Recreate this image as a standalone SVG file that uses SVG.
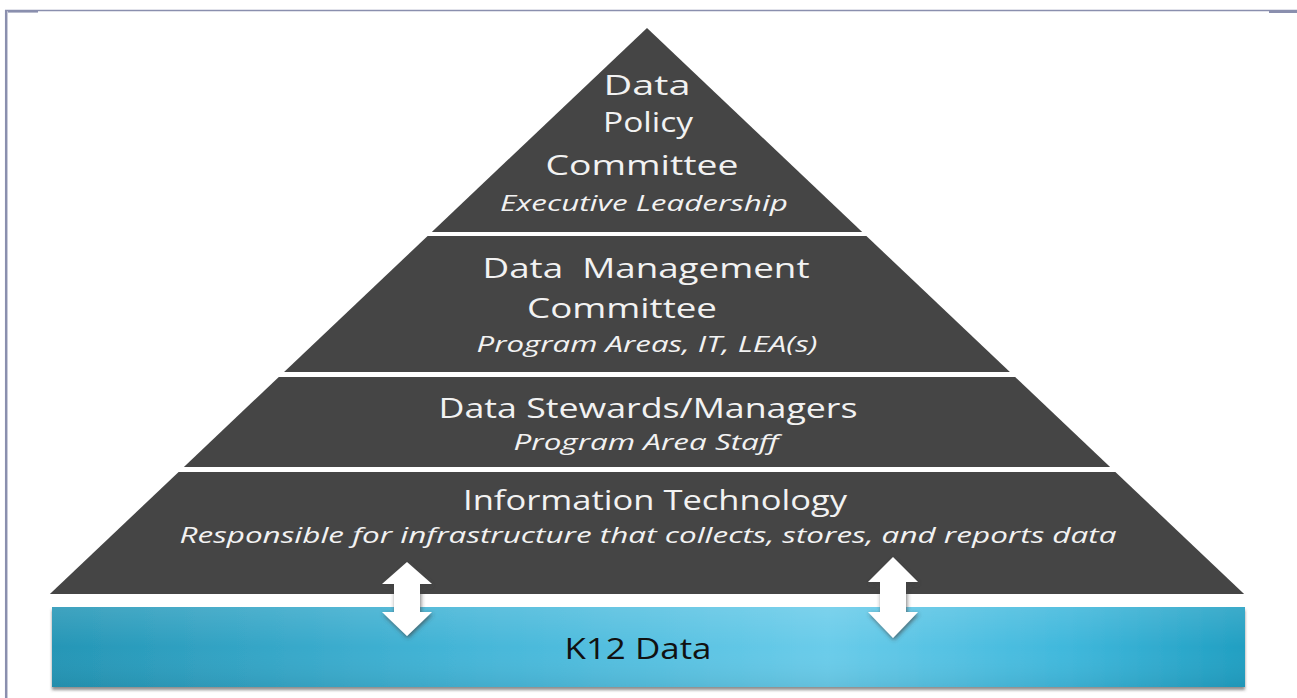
<svg xmlns="http://www.w3.org/2000/svg" width="1297" height="698" viewBox="0 0 1297 698">
<defs>
<style>
.tier{fill:#454545;}
.t{font-family:"Open Sans","DejaVu Sans",sans-serif;fill:#f2f2f2;text-anchor:middle;}
.big{font-size:28px;}
.sub{font-size:22px;font-style:italic;}
.frame{stroke:#8a8fae;fill:none;}
</style>
<linearGradient id="bar" x1="0" y1="0" x2="1" y2="0">
<stop offset="0" stop-color="#2596b6"/>
<stop offset="0.35" stop-color="#45b6d8"/>
<stop offset="0.65" stop-color="#6accea"/>
<stop offset="0.85" stop-color="#40b8dc"/>
<stop offset="1" stop-color="#219fc2"/>
</linearGradient>
<linearGradient id="barv" x1="0" y1="0" x2="0" y2="1">
<stop offset="0" stop-color="#ffffff" stop-opacity="0.12"/>
<stop offset="0.5" stop-color="#ffffff" stop-opacity="0"/>
<stop offset="1" stop-color="#000000" stop-opacity="0.06"/>
</linearGradient>
<filter id="sh" x="-30%" y="-20%" width="160%" height="150%">
<feDropShadow dx="1" dy="2" stdDeviation="2" flood-color="#404040" flood-opacity="0.7"/>
</filter>
<filter id="barsh" x="-5%" y="-10%" width="110%" height="130%">
<feDropShadow dx="0" dy="3" stdDeviation="1.5" flood-color="#606060" flood-opacity="0.7"/>
</filter>
</defs>
<rect width="1297" height="698" fill="#ffffff"/>
<g id="frame">
<line class="frame" x1="5" y1="10.5" x2="1297" y2="10.5" stroke-width="1.5"/>
<line class="frame" x1="6.2" y1="10" x2="6.2" y2="698" stroke-width="2.5"/>
<line class="frame" x1="8" y1="11.8" x2="38" y2="11.8" stroke-width="1.6"/>
<line class="frame" x1="1269" y1="12" x2="1297" y2="12" stroke-width="2"/>
</g>
<g id="tier1">
<polygon class="tier" points="647,28 862.2,232 431.8,232"/>
<text class="t big" x="647" y="95" textLength="87" lengthAdjust="spacingAndGlyphs">Data</text>
<text class="t big" x="648" y="132" textLength="90" lengthAdjust="spacingAndGlyphs">Policy</text>
<text class="t big" x="642" y="175" textLength="193" lengthAdjust="spacingAndGlyphs">Committee</text>
<text class="t sub" x="644" y="211" textLength="288" lengthAdjust="spacingAndGlyphs">Executive Leadership</text>
</g>
<g id="tier2">
<polygon class="tier" points="427.6,236 866.4,236 1009.9,372 284.1,372"/>
<text class="t big" x="646" y="278" textLength="327" lengthAdjust="spacingAndGlyphs" xml:space="preserve">Data  Management</text>
<text class="t big" x="622" y="318" textLength="190" lengthAdjust="spacingAndGlyphs">Committee</text>
<text class="t sub" x="647" y="352" textLength="341" lengthAdjust="spacingAndGlyphs">Program Areas, IT, LEA(s)</text>
</g>
<g id="tier3">
<polygon class="tier" points="278.8,377 1015.2,377 1110.1,467 183.9,467"/>
<text class="t big" x="648" y="418" textLength="419" lengthAdjust="spacingAndGlyphs">Data Stewards/Managers</text>
<text class="t sub" x="646" y="450" textLength="265" lengthAdjust="spacingAndGlyphs">Program Area Staff</text>
</g>
<g id="tier4">
<polygon class="tier" points="178.6,472 1115.4,472 1244.1,594 49.9,594"/>
<text class="t big" x="655" y="510" textLength="384" lengthAdjust="spacingAndGlyphs">Information Technology</text>
<text class="t sub" x="648" y="543" textLength="937" lengthAdjust="spacingAndGlyphs">Responsible for infrastructure that collects, stores, and reports data</text>
</g>
<g id="k12">
<rect x="52" y="607" width="1193" height="80" fill="url(#bar)" filter="url(#barsh)"/>
<rect x="52" y="607" width="1193" height="80" fill="url(#barv)"/>
<text x="638" y="659" font-family="'Open Sans','DejaVu Sans',sans-serif" font-size="30" fill="#111111" text-anchor="middle" textLength="147" lengthAdjust="spacingAndGlyphs">K12 Data</text>
</g>
<g id="connectors" fill="#ffffff" filter="url(#sh)">
<path d="M407,562 L432,584 L420,584 L420,612 L432,612 L407,636 L382,612 L394,612 L394,584 L382,584 Z"/>
<path d="M893,557 L918,582 L906,582 L906,612 L918,612 L893,638 L868,612 L880,612 L880,582 L868,582 Z"/>
</g>
</svg>
